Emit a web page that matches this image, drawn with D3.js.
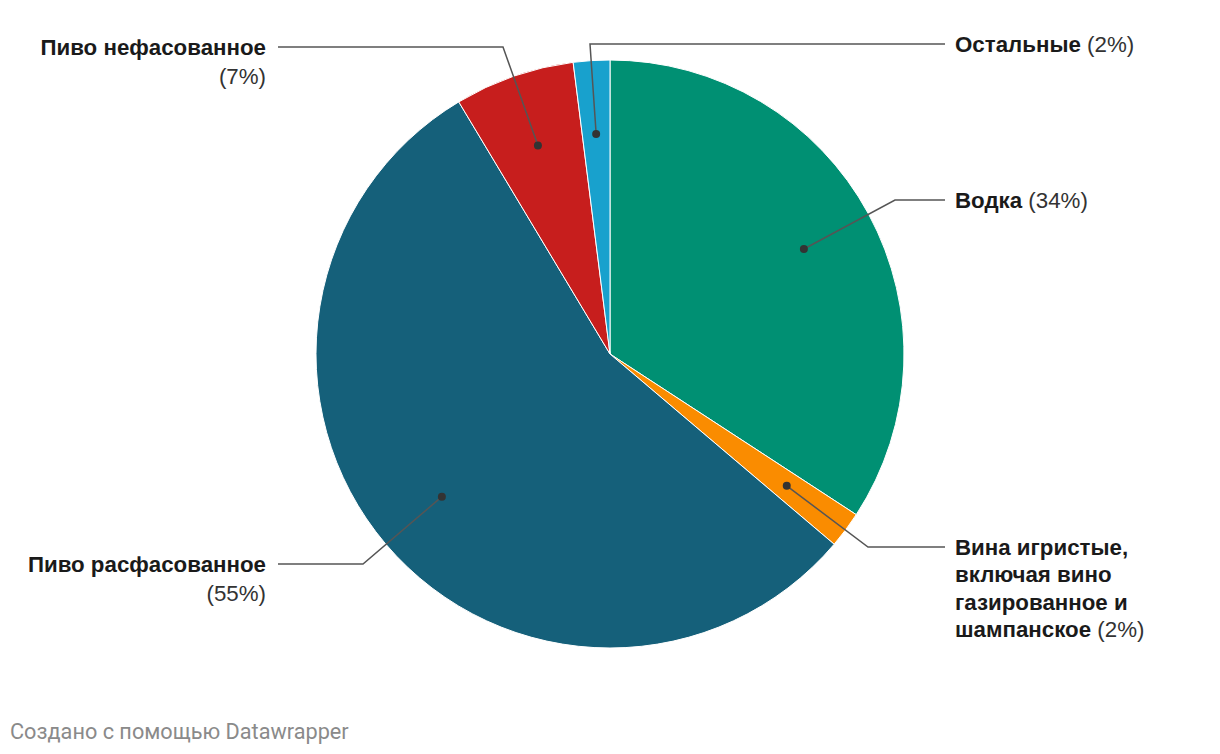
<!DOCTYPE html>
<html><head><meta charset="utf-8">
<script src="https://cdn.jsdelivr.net/npm/d3@7"></script>
<style>
body{margin:0;background:#fff;}
svg{display:block;font-family:"Liberation Sans",Arial,sans-serif;}
</style></head>
<body><svg id="c" width="1220" height="754"></svg>
<script>
const categories = ["Водка", "Вина игристые, включая вино газированное и шампанское", "Пиво расфасованное", "Пиво нефасованное", "Остальные"];
const values = [34.2, 2.0, 55.2, 6.6, 2.0];
const percentLabels = ["34%", "2%", "55%", "7%", "2%"];
const colors = ["#009073", "#fa8c00", "#15607a", "#c71e1d", "#18a1cd"];
// label lines (text lines per label): [bold part, regular part]
const labelLines = [
  [["Водка", " (34%)"]],
  [["Вина игристые,", ""], ["включая вино", ""], ["газированное и", ""], ["шампанское", " (2%)"]],
  [["Пиво расфасованное", ""], ["", "(55%)"]],
  [["Пиво нефасованное", ""], ["", "(7%)"]],
  [["Остальные", " (2%)"]]
];

const svg = d3.select("#c");
const cx = 610, cy = 354, R = 294;
const data = categories.map((c, i) => ({name: c, value: values[i], color: colors[i], lines: labelLines[i]}));
const pie = d3.pie().value(d => d.value).sort(null);
const arcs = pie(data);
const arc = d3.arc().innerRadius(0).outerRadius(R);
const dotArc = d3.arc().innerRadius(R * 0.75).outerRadius(R * 0.75);

const g = svg.append("g").attr("transform", `translate(${cx},${cy})`);
g.selectAll("path.slice").data(arcs).enter().append("path")
  .attr("class", "slice")
  .attr("d", arc)
  .attr("fill", d => d.data.color)
  .attr("stroke", "#fff").attr("stroke-width", 1);

// label placement (y of first line, side)
const labelY = [200, 547, 564, 47, 44];
const side = [1, 1, -1, -1, 1];
const elbowX = [895, 868, 363, 503, 590];
const lineEndRight = 945, lineEndLeft = 278;
const textRight = 955, textLeft = 266;
const lh = 27.5;

arcs.forEach((a, i) => {
  const [dx, dy] = dotArc.centroid(a);
  const px = cx + dx, py = cy + dy;
  const endX = side[i] > 0 ? lineEndRight : lineEndLeft;
  svg.append("path")
    .attr("d", d3.line()([[px, py], [elbowX[i], labelY[i]], [endX, labelY[i]]]))
    .attr("fill", "none").attr("stroke", "#555").attr("stroke-width", 1.5);
  svg.append("circle").attr("cx", px).attr("cy", py).attr("r", 4).attr("fill", "#333");
  const t = svg.append("text")
    .attr("text-anchor", side[i] > 0 ? "start" : "end")
    .attr("font-size", 22.3).attr("fill", "#1a1a1a");
  a.data.lines.forEach((ln, j) => {
    const tx = t.append("tspan").attr("x", side[i] > 0 ? textRight : textLeft)
      .attr("y", labelY[i] + j * lh + (j > 0 && side[i] < 0 ? 2 : 0)).attr("dy", "0.35em");
    if (ln[0]) tx.append("tspan").attr("font-weight", 700).text(ln[0]);
    if (ln[1]) tx.append("tspan").attr("font-weight", 400).attr("fill", "#333").text(ln[1]);
  });
});

svg.append("text").attr("x", 10).attr("y", 731).attr("dy", "0.35em")
  .attr("font-family", "Roboto, sans-serif")
  .attr("font-size", 21.7).attr("fill", "#8a8a8a").text("Создано с помощью Datawrapper");
</script></body></html>
